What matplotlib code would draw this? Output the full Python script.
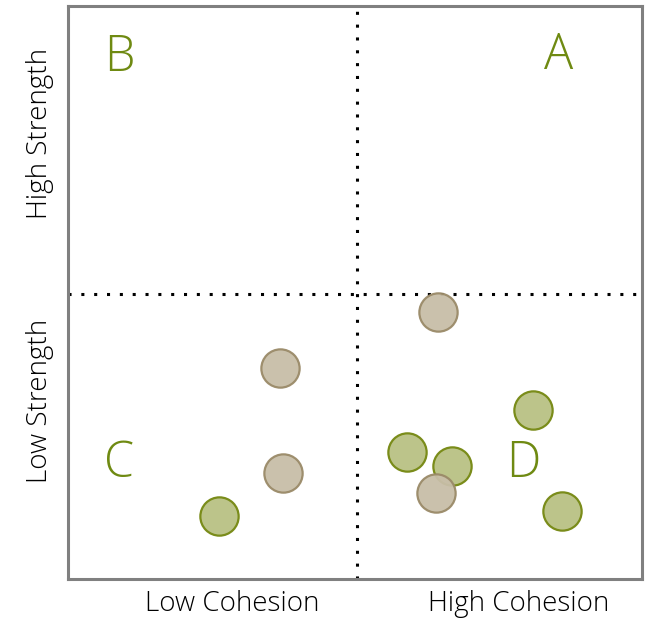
import matplotlib
matplotlib.use("Agg")
import matplotlib.pyplot as plt

plt.rcParams['font.family'] = ['Open Sans', 'DejaVu Sans']

# puntos verdes y beige (coordenadas en escala 0-10)
verde_x = [2.63, 5.91, 6.69, 8.10, 8.61]
verde_y = [1.10, 2.22, 1.97, 2.95, 1.19]
beige_x = [6.45, 3.69, 3.75, 6.41]
beige_y = [4.66, 3.68, 1.85, 1.50]

letras = ['B', 'A', 'C', 'D']
letras_x = [0.89, 8.54, 0.89, 7.94]
letras_y = [9.09, 9.12, 2.00, 2.00]

etiquetas_x = ['Low Cohesion', 'High Cohesion']
etiquetas_y = ['Low Strength', 'High Strength']

olivo = '#6f8a12'

fig = plt.figure(figsize=(6.52, 6.21), dpi=100)
ax = fig.add_axes([68 / 652, 42 / 621, 574 / 652, 573 / 621])
ax.set_xlim(0, 10)
ax.set_ylim(0, 10)

ax.axvline(5.03, color='black', linestyle=(0, (1, 3.2)), linewidth=2.2, zorder=1)
ax.axhline(4.97, color='black', linestyle=(0, (1, 3.2)), linewidth=2.2, zorder=1)

ax.scatter(verde_x, verde_y, s=760, facecolor='#bcc48a', edgecolor='#7a8c1a',
           linewidth=1.6, zorder=3)
ax.scatter(beige_x, beige_y, s=760, facecolor='#c8bea8', edgecolor='#9a8a68',
           linewidth=1.6, alpha=0.95, zorder=4)

for l, x, y in zip(letras, letras_x, letras_y):
    ax.text(x, y, l, color=olivo, fontsize=35, fontweight='light',
            ha='center', va='center', zorder=5)

ax.set_xticks([2.86, 7.85])
ax.set_xticklabels(etiquetas_x, fontsize=20, fontweight='light')
ax.set_yticks([3.11, 7.77])
ax.set_yticklabels(etiquetas_y, fontsize=20, fontweight='light', rotation=90, va='center')
ax.tick_params(axis='x', length=0, pad=8)
ax.tick_params(axis='y', length=0, pad=10)

for s in ax.spines.values():
    s.set_color('#808080')
    s.set_linewidth(2.2)

fig.savefig('out.png', dpi=100)
